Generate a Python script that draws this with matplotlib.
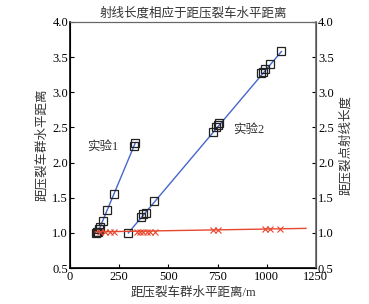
import matplotlib.pyplot as plt

plt.rcParams['font.family'] = ['Liberation Serif', 'Noto Sans CJK SC']
plt.rcParams['axes.unicode_minus'] = False

# experiment 1 (square markers, left axis)
exp1_x = [130, 135, 140, 145, 150, 165, 190, 222, 325, 330]
exp1_y = [1.00, 1.01, 1.02, 1.05, 1.09, 1.17, 1.33, 1.55, 2.23, 2.28]
exp1_fit_x = [140, 330]
exp1_fit_y = [1.00, 2.27]

# experiment 2 (square markers, left axis)
exp2_x = [296, 360, 372, 386, 428, 728, 741, 750, 756, 973, 981, 990, 1015, 1075]
exp2_y = [1.00, 1.22, 1.27, 1.29, 1.45, 2.44, 2.50, 2.54, 2.56, 3.27, 3.29, 3.33, 3.40, 3.58]
exp2_fit_x = [296, 1075]
exp2_fit_y = [1.00, 3.58]

# ray length from fracturing point (x markers, right axis)
ray_x = [152, 178, 203, 223, 339, 355, 372, 389, 406, 431, 728, 753, 990, 1015, 1066]
ray_y = [1.02, 1.02, 1.02, 1.02, 1.02, 1.02, 1.02, 1.02, 1.02, 1.02, 1.04, 1.04, 1.05, 1.05, 1.06]
ray_fit_x = [127, 1200]
ray_fit_y = [1.015, 1.065]

fig = plt.figure(figsize=(3.69, 3.04), dpi=100)
ax = fig.add_axes([0.19, 0.118, 0.666, 0.81])
ax2 = ax.twinx()

ax.plot(exp1_fit_x, exp1_fit_y, '-', color='#4468cc', lw=1.0, zorder=2)
ax.plot(exp2_fit_x, exp2_fit_y, '-', color='#4468cc', lw=1.0, zorder=2)
ax.plot(exp1_x, exp1_y, 's', mfc='none', mec='#222222', ms=6, mew=0.9, zorder=3)
ax.plot(exp2_x, exp2_y, 's', mfc='none', mec='#222222', ms=6, mew=0.9, zorder=3)

ax2.plot(ray_fit_x, ray_fit_y, '-', color='#e8472f', lw=1.0)
ax2.plot(ray_x, ray_y, 'x', color='#e8472f', ms=5, mew=0.8)

for a in (ax, ax2):
    a.set_xlim(0, 1250)
    a.set_ylim(0.5, 4.0)
    a.set_yticks([0.5, 1.0, 1.5, 2.0, 2.5, 3.0, 3.5, 4.0])
    a.tick_params(direction='in', length=3, labelsize=9, pad=1.5)

ax.set_xticks([0, 250, 500, 750, 1000, 1250])
ax.tick_params(axis='x', pad=2)
ax.spines['top'].set_color('#666666')
ax2.spines['top'].set_color('#666666')
ax2.spines['right'].set_color('#666666')
ax2.spines['right'].set_linewidth(1.2)
ax.spines['left'].set_linewidth(1.2)
ax.spines['bottom'].set_linewidth(1.2)

ax.text(87, 2.22, '实验1', fontsize=9, color='#333333', va='center')
ax.text(830, 2.47, '实验2', fontsize=9, color='#333333', va='center')

ax.set_title('射线长度相应于距压裂车水平距离', fontsize=9, color='#333333', pad=4)
ax.set_xlabel('距压裂车群水平距离/m', fontsize=9, color='#333333', labelpad=2)
ax.set_ylabel('距压裂车群水平距离', fontsize=9, color='#333333', labelpad=3)
ax2.set_ylabel('距压裂点射线长度', fontsize=9, color='#333333', labelpad=4)

fig.savefig('out.png', dpi=100)
